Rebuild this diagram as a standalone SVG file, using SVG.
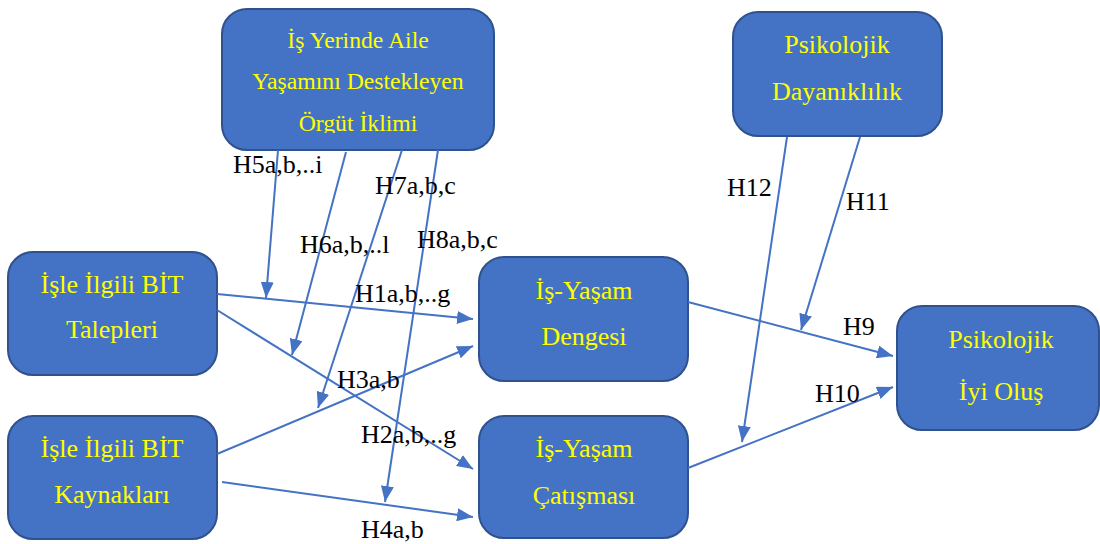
<svg xmlns="http://www.w3.org/2000/svg" width="1100" height="544" viewBox="0 0 1100 544">
  <style>
    .box { fill: #4472C4; stroke: #2F528F; stroke-width: 2; }
    .nt { fill: #FFFF00; font-family: "Liberation Serif", "Times New Roman", serif; font-size: 26px; text-anchor: middle; }
    .nt-s { font-size: 23.7px; }
    .edge { stroke: #4472C4; stroke-width: 2; fill: none; marker-end: url(#arrow); }
    .lbl { fill: #000000; font-family: "Liberation Serif", "Times New Roman", serif; font-size: 26px; }
  </style>
  <defs>
    <marker id="arrow" viewBox="0 0 16 13" refX="16" refY="6.5" markerWidth="16" markerHeight="13" markerUnits="userSpaceOnUse" orient="auto">
      <path d="M0,0 L16,6.5 L0,13 Z" fill="#4472C4"/>
    </marker>
    <!-- the climate box's text frame cuts off the bottom of its last line -->
    <clipPath id="climateClip">
      <rect x="222" y="10" width="272" height="123"/>
    </clipPath>
  </defs>
  <rect width="1100" height="544" fill="#FFFFFF"/>

  <!-- nodes -->
  <g id="node-climate">
    <rect class="box" x="222" y="9" width="272" height="141" rx="25" ry="25"/>
    <g clip-path="url(#climateClip)">
      <text class="nt nt-s" x="358" y="48">İş Yerinde Aile</text>
      <text class="nt nt-s" x="358" y="89">Yaşamını Destekleyen</text>
      <text class="nt nt-s" x="358" y="131">Örgüt İklimi</text>
    </g>
  </g>
  <g id="node-resilience">
    <rect class="box" x="733" y="12" width="209" height="124" rx="25" ry="25"/>
    <text class="nt" x="837" y="53">Psikolojik</text>
    <text class="nt" x="837" y="100">Dayanıklılık</text>
  </g>
  <g id="node-demands">
    <rect class="box" x="8" y="252" width="209" height="123" rx="25" ry="25"/>
    <text class="nt" x="112" y="293">İşle İlgili BİT</text>
    <text class="nt" x="112" y="338">Talepleri</text>
  </g>
  <g id="node-resources">
    <rect class="box" x="8" y="416" width="209" height="123" rx="25" ry="25"/>
    <text class="nt" x="112" y="457">İşle İlgili BİT</text>
    <text class="nt" x="112" y="503">Kaynakları</text>
  </g>
  <g id="node-balance">
    <rect class="box" x="479" y="257" width="209" height="124" rx="25" ry="25"/>
    <text class="nt" x="584" y="299">İş-Yaşam</text>
    <text class="nt" x="584" y="345">Dengesi</text>
  </g>
  <g id="node-conflict">
    <rect class="box" x="479" y="416" width="209" height="122" rx="25" ry="25"/>
    <text class="nt" x="584" y="457">İş-Yaşam</text>
    <text class="nt" x="584" y="504">Çatışması</text>
  </g>
  <g id="node-wellbeing">
    <rect class="box" x="897" y="306" width="202" height="124" rx="25" ry="25"/>
    <text class="nt" x="1001" y="348">Psikolojik</text>
    <text class="nt" x="1001" y="400">İyi Oluş</text>
  </g>

  <!-- connectors -->
  <g id="connectors">
    <line class="edge" x1="217" y1="294" x2="473" y2="319"/>
    <line class="edge" x1="217" y1="310" x2="473" y2="469"/>
    <line class="edge" x1="217" y1="454" x2="473" y2="346"/>
    <line class="edge" x1="222" y1="482" x2="473" y2="517"/>
    <line class="edge" x1="278" y1="150" x2="266" y2="298"/>
    <line class="edge" x1="346" y1="152" x2="292" y2="355"/>
    <line class="edge" x1="402" y1="150" x2="318" y2="408"/>
    <line class="edge" x1="438" y1="150" x2="385" y2="502"/>
    <line class="edge" x1="688" y1="302" x2="893" y2="356"/>
    <line class="edge" x1="688" y1="468" x2="893" y2="387"/>
    <line class="edge" x1="860" y1="137" x2="801" y2="330"/>
    <line class="edge" x1="787" y1="137" x2="742" y2="442"/>
  </g>

  <!-- hypothesis labels -->
  <g id="labels">
    <text class="lbl" x="233" y="173">H5a,b,..i</text>
    <text class="lbl" x="375" y="194">H7a,b,c</text>
    <text class="lbl" x="300" y="253">H6a,b,..l</text>
    <text class="lbl" x="417" y="248">H8a,b,c</text>
    <text class="lbl" x="355" y="302">H1a,b,..g</text>
    <text class="lbl" x="337" y="388">H3a,b</text>
    <text class="lbl" x="361" y="443">H2a,b,..g</text>
    <text class="lbl" x="361" y="538">H4a,b</text>
    <text class="lbl" x="727" y="196">H12</text>
    <text class="lbl" x="846" y="210">H11</text>
    <text class="lbl" x="843" y="335">H9</text>
    <text class="lbl" x="815" y="402">H10</text>
  </g>
</svg>
